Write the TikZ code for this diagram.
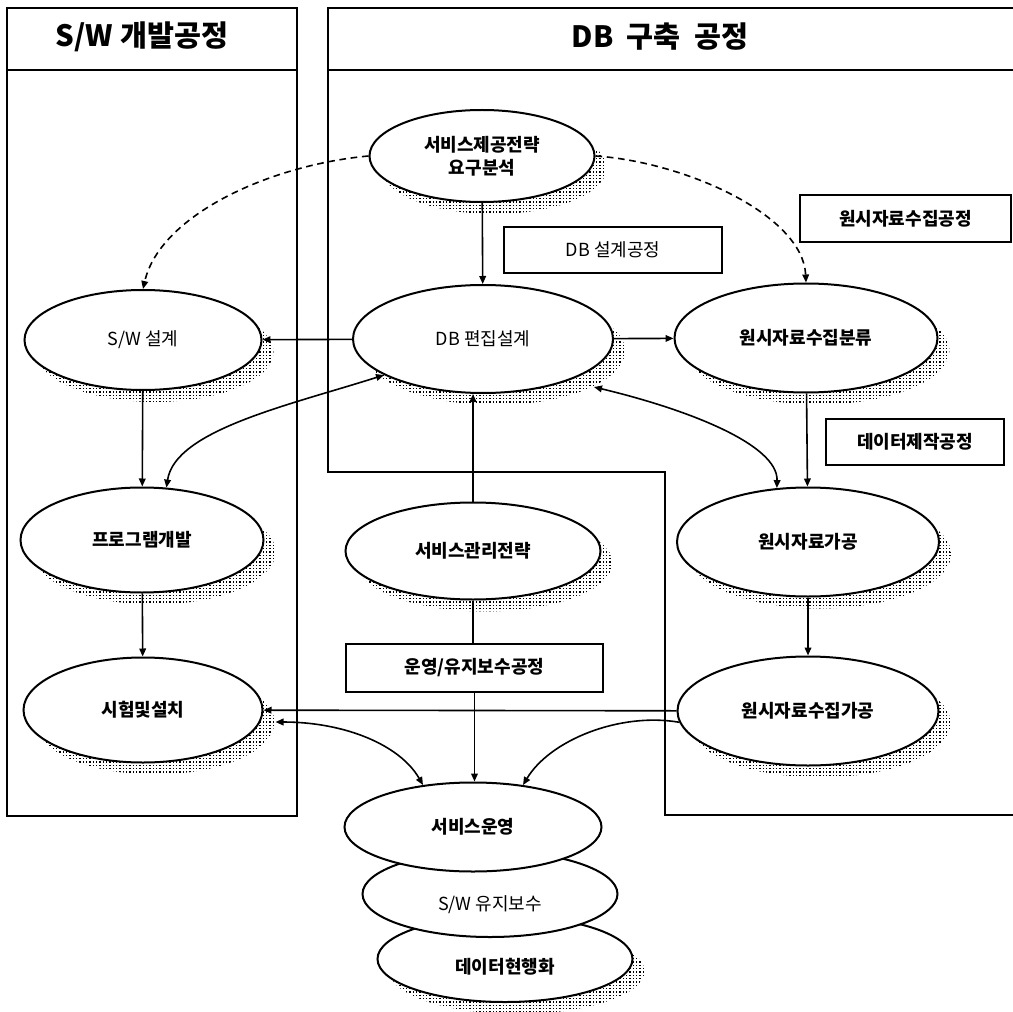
\documentclass[tikz,border=0pt]{standalone}
\usepackage{fontspec}
\setmainfont{Noto Sans CJK KR}
\usetikzlibrary{arrows.meta,shapes.geometric,patterns}
\pgfdeclarepatternformonly{halftone}{\pgfqpoint{-0.7pt}{-0.7pt}}{\pgfqpoint{0.7pt}{0.7pt}}{\pgfqpoint{2.5pt}{2.5pt}}{\pgfpathrectangle{\pgfqpoint{-0.55pt}{-0.5pt}}{\pgfqpoint{1.1pt}{1.0pt}}\pgfusepath{fill}}
\tikzset{
  ell/.style={ellipse, draw, line width=1.5pt, fill=white, inner sep=0pt, align=center,
    font={\fontsize{13.5pt}{16pt}\selectfont\bfseries}},
  ellr/.style={ell, font={\fontsize{13.5pt}{16pt}\selectfont}},
  shad/.style={preaction={pattern=halftone, pattern color=black, transform canvas={xshift=9pt,yshift=-9pt}}},
  lbl/.style={draw, line width=1.3pt, fill=white, inner sep=0pt,
    font={\fontsize{13.5pt}{16pt}\selectfont\bfseries}},
  lblr/.style={lbl, font={\fontsize{13.5pt}{16pt}\selectfont}},
  txt/.style={inner sep=0pt, font={\fontsize{13.5pt}{16pt}\selectfont\bfseries}},
  hdr/.style={inner sep=0pt, font={\fontsize{22pt}{24pt}\selectfont\bfseries}},
  conn/.style={line width=1.2pt},
  tip/.tip={Triangle[length=6pt,width=5pt]},
  arr/.style={conn, -tip},
  darr/.style={conn, tip-tip},
  dsh/.style={conn, dash pattern=on 5pt off 3.5pt, -tip},
  frame/.style={line width=1.4pt},
}
\begin{document}
\begin{tikzpicture}[x=0.75pt, y=-0.75pt]
\useasboundingbox (0,0) rectangle (1013,1012);
% frames
\draw[frame] (7,8) rectangle (297,816);
\draw[frame] (7,70) -- (297,70);
\draw[frame] (1013,8) -- (328,8) -- (328,472) -- (665,472) -- (665,815) -- (1013,815);
\draw[frame] (328,70) -- (1013,70);
% headers
\node[hdr] (hsw) at (142,37) {S/W 개발공정};
\node[hdr] (hdb) at (660,37) {DB\hspace{0.45em}구축\hspace{0.45em}공정};
% process boxes
\node[lblr, minimum width=163.5pt, minimum height=34.5pt] (dbbox) at (613,250) {DB 설계공정};
\node[lbl, minimum width=158.25pt, minimum height=35.25pt] (rawbox) at (905.5,218.5) {원시자료수집공정};
\node[lbl, minimum width=133.5pt, minimum height=34.5pt] (databox) at (915,442) {데이터제작공정};
\node[lbl, minimum width=192.75pt, minimum height=36pt] (opsbox) at (474.5,668) {운영/유지보수공정};
% ellipses
\node[ell, shad, minimum width=168.75pt, minimum height=69pt] (req) at (482,156) {서비스제공전략\\[1pt]요구분석};
\node[ellr, shad, minimum width=177.75pt, minimum height=75pt] (swd) at (143,340) {S/W 설계};
\node[ellr, shad, minimum width=195pt, minimum height=81pt] (dbe) at (483,339) {DB 편집설계};
\node[ell, shad, minimum width=197.25pt, minimum height=81.75pt] (rawc) at (806,338) {원시자료수집분류};
\node[ell, shad, minimum width=182.25pt, minimum height=78.75pt] (prog) at (142,540) {프로그램개발};
\node[ell, shad, minimum width=191.25pt, minimum height=72.75pt] (mgmt) at (473,551) {서비스관리전략};
\node[ell, shad, minimum width=196.5pt, minimum height=81.75pt] (rawp) at (808,542) {원시자료가공};
\node[ell, shad, minimum width=179.25pt, minimum height=78.75pt] (test) at (143,710) {시험및설치};
\node[ell, shad, minimum width=195.75pt, minimum height=81.75pt] (rawcp) at (808,711) {원시자료수집가공};
% bottom stack
\node[ell, shad, minimum width=191.25pt, minimum height=64.5pt] (dcur) at (505,959) {};
\node[txt] (dcurt) at (505,967) {데이터현행화};
\node[ell, minimum width=191.25pt, minimum height=64.5pt] (swm) at (490,894) {};
\node[txt, font={\fontsize{13.5pt}{16pt}\selectfont}] (swmt) at (490,905) {S/W 유지보수};
\node[ell, minimum width=192.75pt, minimum height=66.75pt] (svcop) at (473,827) {서비스운영};
% connectors
\draw[dsh] (req.west) .. controls (270,165) and (160,215) .. (swd.north);
\draw[dsh] (req.east) .. controls (685,162) and (803,215) .. (rawc.north);
\draw[arr] (req) -- (dbe);
\draw[arr] (dbe) -- (swd);
\draw[arr] (dbe) -- (rawc);
\draw[arr] (swd) -- (prog);
\draw[arr] (prog) -- (test);
\draw[darr] (dbe.200) .. controls (290,405) and (175,430) .. (prog.65);
\draw[darr] ([xshift=9pt,yshift=-9pt]dbe.-20) .. controls (690,410) and (778,445) .. (rawp.120);
\draw[arr] (mgmt.north) -- (mgmt.north |- dbe.south);
\draw[conn] (mgmt.south) -- (mgmt.south |- opsbox.north);
\draw[arr] (opsbox.south) -- (opsbox.south |- svcop.north);
\draw[arr] (rawc) -- (rawp);
\draw[arr] (rawp) -- (rawcp);
\draw[arr] (rawcp) -- (test);
\draw[darr] ([xshift=9pt,yshift=-9pt]test.east) .. controls (345,722) and (400,745) .. (svcop.140);
\draw[arr] (rawcp.185) .. controls (620,712) and (550,740) .. (svcop.40);
\end{tikzpicture}
\end{document}
